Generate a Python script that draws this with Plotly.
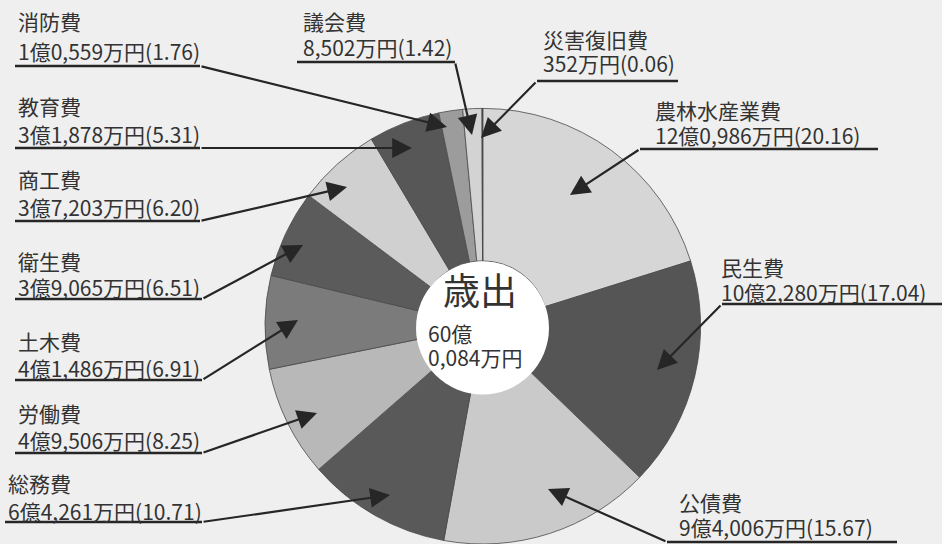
import plotly.graph_objects as go

# ---- data (万円 / %) ----
categories = ["農林水産業費", "民生費", "公債費", "総務費", "労働費", "土木費",
              "衛生費", "商工費", "教育費", "消防費", "議会費", "災害復旧費"]
values_man = [120986, 102280, 94006, 64261, 49506, 41486,
              39065, 37203, 31878, 10559, 8502, 352]
value_labels = ["12億0,986万円", "10億2,280万円", "9億4,006万円", "6億4,261万円",
                "4億9,506万円", "4億1,486万円", "3億9,065万円", "3億7,203万円",
                "3億1,878万円", "1億0,559万円", "8,502万円", "352万円"]
percents = [20.16, 17.04, 15.67, 10.71, 8.25, 6.91, 6.51, 6.20, 5.31, 1.76, 1.42, 0.06]
total_label = ["60億", "0,084万円"]
center_title = "歳出"

# ---- styles ----
slice_colors = ["#d6d6d6", "#555555", "#cacaca", "#595959", "#b8b8b8", "#7b7b7b",
                "#5b5b5b", "#d0d0d0", "#575757", "#9c9c9c", "#d3d3d3", "#3a3a3a"]
W, H = 942, 544
BG = "#efefef"
TXT = "#333333"
LINE = "#262626"
FONT = "Noto Sans CJK JP"
FS = 21
DY = -1  # vertical text correction

# pie geometry in pixels
cx = 482.8
dom_h = 435.6
hole_cx, hole_cy, hole_r = 482.5, 328, 66.5

# label layout (pixels from top-left): text x, name y, value y, underline y,
# underline x0, x1, bend x, arrow tip (x, y)
layout_pos = {
    "消防費":      (16, 22, 52, 66, 15, 200, 200, (447, 127)),
    "教育費":      (16, 107, 135, 148, 15, 200, 200, (412, 148)),
    "商工費":      (16, 180, 208, 221, 15, 200, 200, (347, 187)),
    "衛生費":      (16, 262, 288, 299, 15, 202, 202, (303, 245)),
    "土木費":      (16, 342, 369, 380, 15, 202, 202, (298, 320)),
    "労働費":      (16, 414, 441, 453, 15, 202, 202, (317, 413)),
    "総務費":      (6, 484, 512, 522, 5, 202, 202, (390, 495)),
    "議会費":      (301, 22, 48, 62, 297, 455, 455, (472, 135)),
    "災害復旧費":  (541, 40, 64, 81, 537, 678, 537, (481, 138)),
    "農林水産業費": (653, 111, 136, 149, 640, 878, 640, (570, 195)),
    "民生費":      (719, 268, 293, 304, 722, 942, 722, (657, 370)),
    "公債費":      (677, 503, 528, 542, 667, 897, 667, (548, 489)),
}

def px(x):
    return x / W

def py(y):
    return 1 - y / H

fig = go.Figure(go.Pie(
    labels=categories,
    values=values_man,
    sort=False,
    direction="clockwise",
    rotation=0,
    hole=0.3,
    marker=dict(colors=slice_colors, line=dict(color="#4a4a4a", width=0.8)),
    textinfo="none",
    hoverinfo="label+value+percent",
    showlegend=False,
    domain=dict(x=[(cx - dom_h / 2) / W, (cx + dom_h / 2) / W], y=[0, dom_h / H]),
))

shapes = []
annotations = []

# white centre circle
shapes.append(dict(type="circle", xref="paper", yref="paper", layer="above",
                   x0=px(hole_cx - hole_r), x1=px(hole_cx + hole_r),
                   y0=py(hole_cy + hole_r), y1=py(hole_cy - hole_r),
                   fillcolor="white", line=dict(width=0)))

def text_ann(txt, x, y, size=FS, anchor="left", dy=DY):
    return dict(text=txt, x=px(x), y=py(y + dy), xref="paper", yref="paper",
                xanchor=anchor, yanchor="middle", align="left", showarrow=False,
                font=dict(family=FONT, size=size, color=TXT))

for name, vlab, pct in zip(categories, value_labels, percents):
    tx, ny, vy, uy, ux0, ux1, bx, (tipx, tipy) = layout_pos[name]
    annotations.append(text_ann(name, tx, ny))
    annotations.append(text_ann(f"{vlab}({pct:.2f})", tx, vy))
    shapes.append(dict(type="line", xref="paper", yref="paper",
                       x0=px(ux0), x1=px(ux1), y0=py(uy), y1=py(uy),
                       line=dict(color=LINE, width=2.5)))
    annotations.append(dict(text="", x=px(tipx), y=py(tipy), xref="paper", yref="paper",
                            ax=bx - tipx, ay=uy - tipy, showarrow=True,
                            arrowhead=2, arrowsize=1.8, arrowwidth=2.2,
                            arrowcolor=LINE, standoff=0))

# centre text
annotations.append(text_ann(center_title, 480, 293, size=37, anchor="center", dy=-4))
annotations.append(text_ann(total_label[0], 426, 335, size=21, dy=-2))
annotations.append(text_ann(total_label[1], 426, 359, size=21, dy=-2))

fig.update_layout(
    width=W, height=H,
    margin=dict(l=0, r=0, t=0, b=0),
    paper_bgcolor=BG,
    plot_bgcolor=BG,
    shapes=shapes,
    annotations=annotations,
)

fig.write_html("out.html",
               config={"displayModeBar": False},
               post_script="document.body.style.margin='0';"
                           "document.body.style.background='#efefef';")
